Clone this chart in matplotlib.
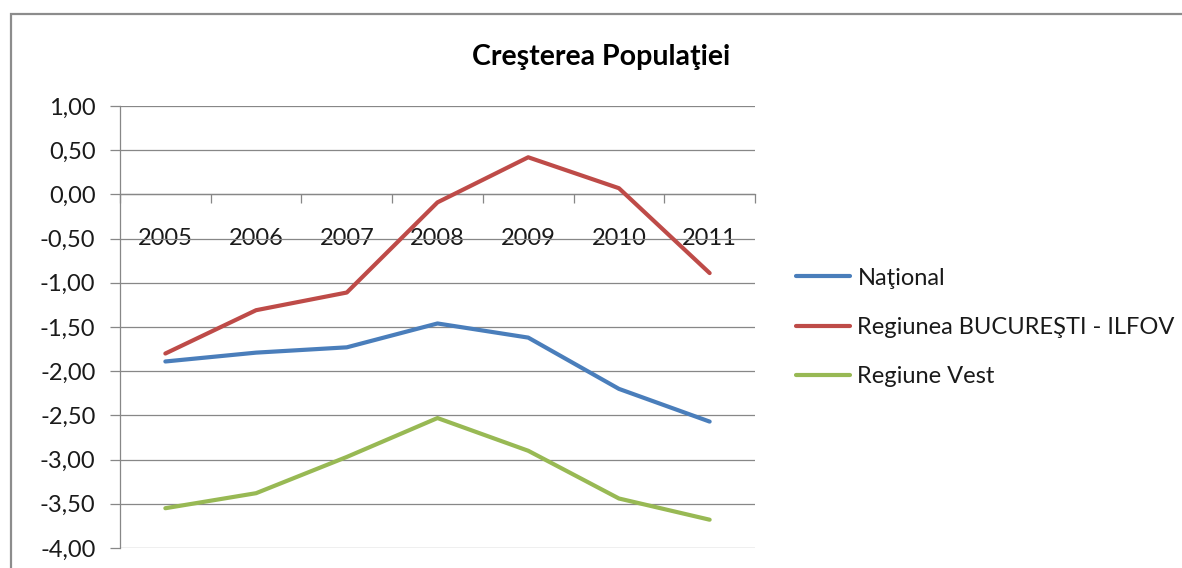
import matplotlib
matplotlib.use("Agg")
import matplotlib.pyplot as plt
from matplotlib.patches import Rectangle
from matplotlib.ticker import FuncFormatter

plt.rcParams['font.family'] = ['Lato', 'DejaVu Sans']

# ---- data ----
years = ['2005', '2006', '2007', '2008', '2009', '2010', '2011']
national = [-1.89, -1.79, -1.73, -1.46, -1.62, -2.20, -2.57]
bucuresti_ilfov = [-1.80, -1.31, -1.11, -0.09, 0.42, 0.07, -0.89]
regiune_vest = [-3.55, -3.38, -2.97, -2.53, -2.90, -3.44, -3.68]
series_names = ['Naţional', 'Regiunea BUCUREŞTI - ILFOV', 'Regiune Vest']
y_ticks = [-4.0, -3.5, -3.0, -2.5, -2.0, -1.5, -1.0, -0.5, 0.0, 0.5, 1.0]
title = 'Creşterea Populaţiei'

colors = ['#4A7EBB', '#BE4B48', '#98B954']
grid_col = '#878787'
txt_col = '#1a1a1a'
fs = 17

W, H = 1182, 568
fig = plt.figure(figsize=(W / 100, H / 100), dpi=100)
fig.patch.set_facecolor('white')

# outer chart border (only top and left visible)
fig.add_artist(Rectangle((10.5 / W, -0.2), 2.0, 1.2 - 13.5 / H,
                         transform=fig.transFigure, fill=False,
                         edgecolor='#8c8c8c', lw=1.6))

ax = fig.add_axes([120 / W, 1 - 548 / H, (755 - 120) / W, (548 - 106) / H])

x = list(range(len(years)))
for vals, name, c in zip([national, bucuresti_ilfov, regiune_vest], series_names, colors):
    ax.plot(x, vals, color=c, lw=3.0, label=name,
            solid_joinstyle='round', solid_capstyle='round', zorder=3)

ax.set_xlim(-0.5, len(years) - 0.5)
ax.set_ylim(-4.0, 1.0)
ax.set_yticks(y_ticks)
ax.yaxis.set_major_formatter(FuncFormatter(lambda v, p: f"{v:.2f}".replace('.', ',')))

ax.set_axisbelow(True)
ax.yaxis.grid(True, color=grid_col, lw=0.9)
ax.xaxis.grid(False)

for s in ['top', 'right']:
    ax.spines[s].set_visible(False)
ax.spines['left'].set_color(grid_col)
ax.spines['left'].set_linewidth(0.9)
ax.spines['bottom'].set_position(('data', 0))
ax.spines['bottom'].set_color(grid_col)
ax.spines['bottom'].set_linewidth(0.9)

# x: major ticks at category boundaries, labels at centres
bounds = [i - 0.5 for i in range(len(years) + 1)]
ax.set_xticks(bounds, [''] * len(bounds))
ax.set_xticks(x, years, minor=True)
ax.tick_params(axis='x', which='major', length=6.5, width=0.9, color=grid_col, direction='out')
ax.tick_params(axis='x', which='minor', length=0, pad=24.5, labelsize=fs, labelcolor=txt_col)
ax.tick_params(axis='y', length=7.2, width=0.9, color=grid_col, direction='out',
               pad=10.5, labelsize=fs, labelcolor=txt_col)

fig.text(601 / W, 1 - 57 / H, title, ha='center', va='center',
         fontsize=20.5, fontweight='bold', color='#000000')

leg = ax.legend(loc='center left', bbox_to_anchor=(796 / W, 1 - 327.5 / H),
                bbox_transform=fig.transFigure, frameon=False, fontsize=fs,
                handlelength=2.3, handletextpad=0.3, labelspacing=1.2,
                borderpad=0, borderaxespad=0)
for t in leg.get_texts():
    t.set_color(txt_col)

fig.savefig('out.png', dpi=100, facecolor='white')
